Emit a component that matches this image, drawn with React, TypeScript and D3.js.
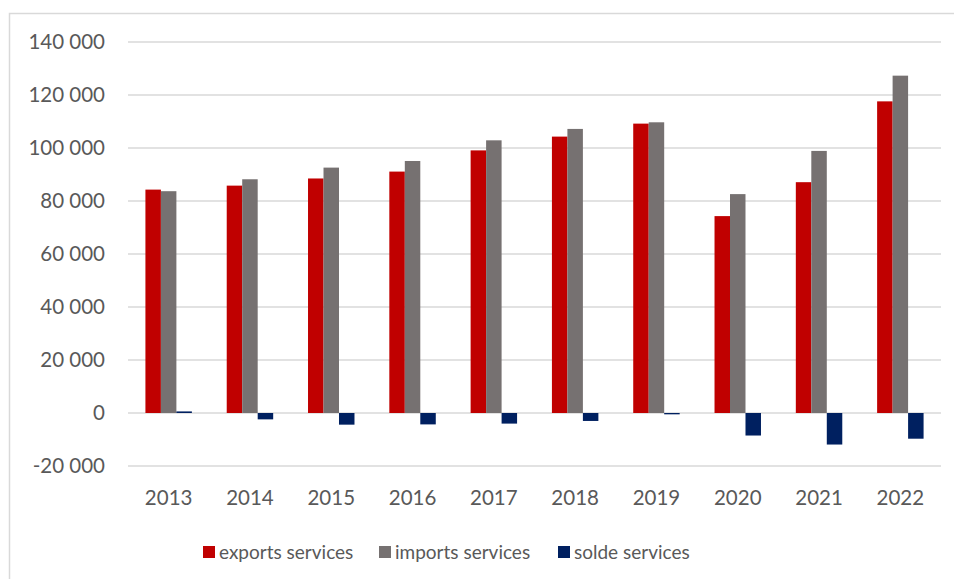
import React, { useEffect, useRef } from 'react';
import * as d3 from 'd3';

const years = ['2013', '2014', '2015', '2016', '2017', '2018', '2019', '2020', '2021', '2022'];
const exportsServices = [84300, 85800, 88500, 91100, 99100, 104300, 109200, 74300, 87100, 117600];
const importsServices = [83700, 88200, 92600, 95100, 102900, 107200, 109700, 82600, 98900, 127300];
const soldeServices = [600, -2400, -4400, -4300, -4000, -3000, -500, -8500, -11900, -9700];
const seriesNames = ['exports services', 'imports services', 'solde services'];
const yTicks = [-20000, 0, 20000, 40000, 60000, 80000, 100000, 120000, 140000];

const colors = ['#C00000', '#767171', '#002060'];
const font = 'Lato, "Open Sans", sans-serif';

const W = 954;
const H = 579;

export default function App() {
  const ref = useRef<SVGSVGElement>(null);

  useEffect(() => {
    draw();
  }, []);

  function draw() {
    const svg = d3.select(ref.current);
    svg.selectAll('*').remove();

    // chart area frame
    svg.append('rect')
      .attr('x', 9.5)
      .attr('y', 13.5)
      .attr('width', W)
      .attr('height', H)
      .attr('fill', '#fff')
      .attr('stroke', '#D9D9D9')
      .attr('stroke-width', 1.5);

    const x0 = d3.scaleBand<string>().domain(years).range([128, 941]).padding(0);
    const x1 = d3.scaleBand<number>()
      .domain([0, 1, 2])
      .range([0, x0.bandwidth()])
      .paddingInner(0)
      .paddingOuter(1.125);
    const y = d3.scaleLinear().domain([-20000, 140000]).range([466, 42]);

    const loc = d3.formatLocale({ decimal: ',', thousands: ' ', grouping: [3], currency: ['', ' €'], minus: '-' });
    const fmt = loc.format(',');

    // gridlines
    svg.append('g')
      .selectAll('line')
      .data(yTicks)
      .enter()
      .append('line')
      .attr('x1', 128)
      .attr('x2', 941)
      .attr('y1', (d) => y(d))
      .attr('y2', (d) => y(d))
      .attr('stroke', '#D9D9D9')
      .attr('stroke-width', 1.5);

    // y labels
    svg.append('g')
      .selectAll('text')
      .data(yTicks)
      .enter()
      .append('text')
      .attr('x', 105)
      .attr('y', (d) => y(d))
      .attr('dy', '0.36em')
      .attr('text-anchor', 'end')
      .attr('font-family', font)
      .attr('font-size', 20.5)
      .attr('fill', '#595959')
      .text((d) => fmt(d));

    // x labels
    svg.append('g')
      .selectAll('text')
      .data(years)
      .enter()
      .append('text')
      .attr('x', (d) => (x0(d) as number) + x0.bandwidth() / 2)
      .attr('y', 505)
      .attr('text-anchor', 'middle')
      .attr('font-family', font)
      .attr('font-size', 20.5)
      .attr('fill', '#595959')
      .text((d) => d);

    const allSeries = [exportsServices, importsServices, soldeServices];

    allSeries.forEach((vals, si) => {
      svg.append('g')
        .selectAll('rect')
        .data(vals)
        .enter()
        .append('rect')
        .attr('x', (d, i) => (x0(years[i]) as number) + (x1(si) as number))
        .attr('width', x1.bandwidth())
        .attr('y', (d) => Math.min(y(d), y(0)))
        .attr('height', (d) => Math.abs(y(d) - y(0)))
        .attr('fill', colors[si]);
    });

    // legend
    const legendX = [203, 379, 558];
    const lg = svg.append('g')
      .selectAll('g')
      .data(seriesNames)
      .enter()
      .append('g')
      .attr('transform', (d, i) => `translate(${legendX[i]}, 546)`);

    lg.append('rect')
      .attr('width', 12)
      .attr('height', 12)
      .attr('fill', (d, i) => colors[i]);

    lg.append('text')
      .attr('x', 16)
      .attr('y', 6)
      .attr('dy', '0.36em')
      .attr('font-family', font)
      .attr('font-size', 19)
      .attr('fill', '#595959')
      .text((d) => d);
  }

  return (
    <svg
      ref={ref}
      width={W}
      height={H}
      style={{ position: 'absolute', left: 0, top: 0, display: 'block' }}
    />
  );
}
